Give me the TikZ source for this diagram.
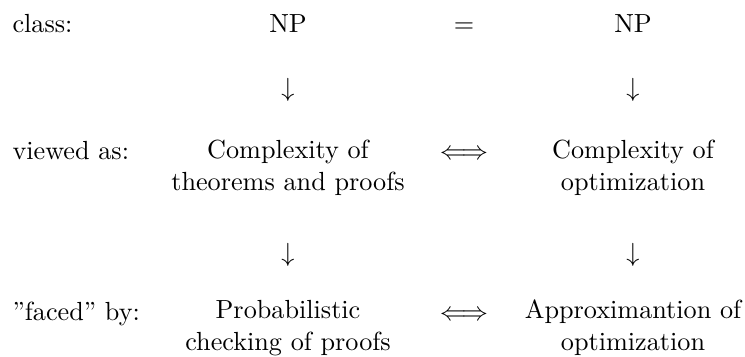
\documentclass[tikz,border=0pt]{standalone}
\usepackage{amsmath}
\begin{document}
\begin{tikzpicture}[x=0.3817pt,y=-0.3817pt,
  lbl/.style={inner sep=0pt,anchor=base west},
  cell/.style={inner sep=0pt,anchor=base,align=center},
  sym/.style={inner sep=0pt,anchor=base}]
\useasboundingbox (0,0) rectangle (745,356);
% labels
\node[lbl] (l1) at (12,32) {class:};
\node[lbl] (l2) at (12,159) {viewed as:};
\node[lbl] (l3) at (12,320) {"faced" by:};
% row 1
\node[cell] (np1) at (288,32) {NP};
\node[sym] (eq) at (464,32) {$=$};
\node[cell] (np2) at (633,32) {NP};
% arrows down
\node[sym] (d1) at (288,96) {$\downarrow$};
\node[sym] (d2) at (633,96) {$\downarrow$};
% row 2 (base anchor = baseline of the last line)
\node[cell] (c1) at (288,190) {Complexity of\\theorems and proofs};
\node[sym] (e1) at (464,159) {$\Longleftrightarrow$};
\node[cell] (c2) at (633,190) {Complexity of\\optimization};
% arrows down
\node[sym] (d3) at (288,261) {$\downarrow$};
\node[sym] (d4) at (633,261) {$\downarrow$};
% row 3
\node[cell] (p1) at (288,350) {Probabilistic\\checking of proofs};
\node[sym] (e2) at (464,320) {$\Longleftrightarrow$};
\node[cell] (p2) at (633,350) {Approximantion of\\optimization};
\end{tikzpicture}
\end{document}
